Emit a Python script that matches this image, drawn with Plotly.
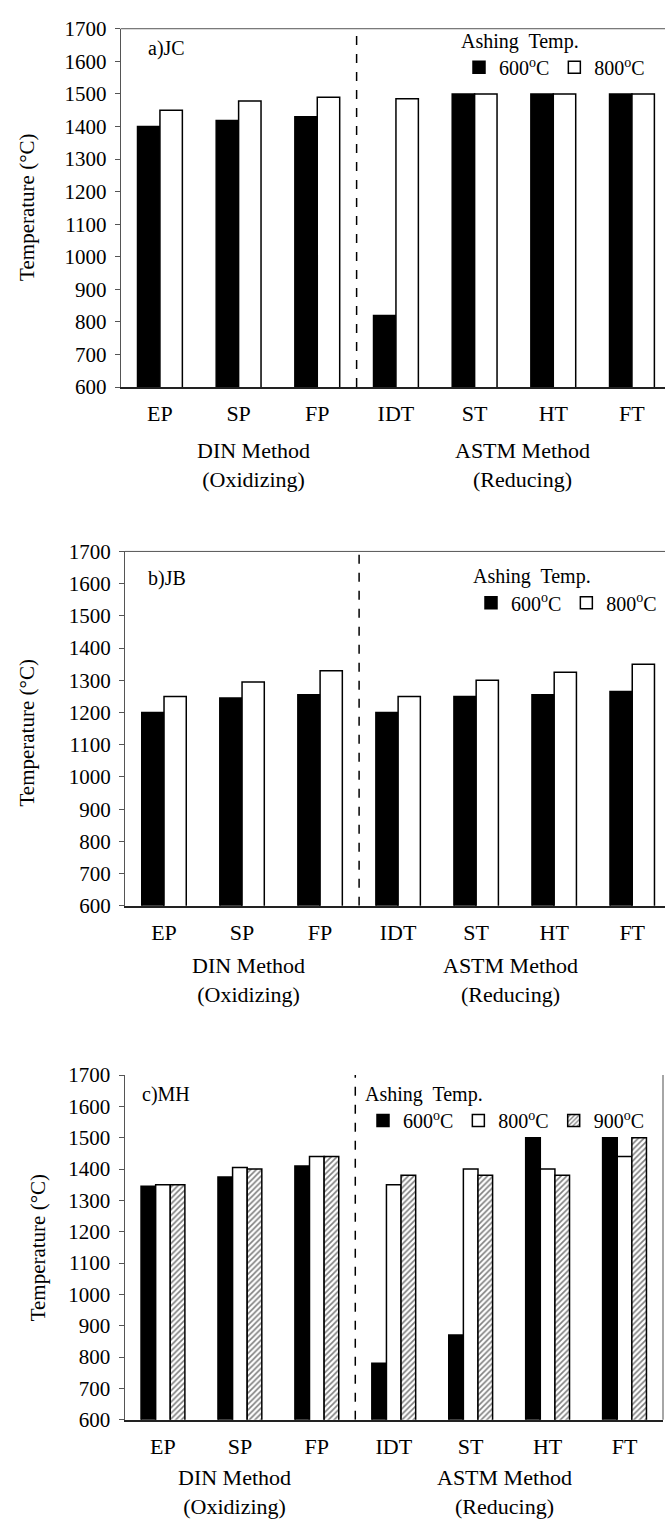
import plotly.graph_objects as go

# ---------------- data ----------------
categories = ["EP", "SP", "FP", "IDT", "ST", "HT", "FT"]
y_ticks = [600, 700, 800, 900, 1000, 1100, 1200, 1300, 1400, 1500, 1600, 1700]

jc_600 = [1400, 1418, 1430, 820, 1500, 1500, 1500]
jc_800 = [1450, 1478, 1490, 1485, 1500, 1500, 1500]

jb_600 = [1200, 1245, 1255, 1200, 1250, 1255, 1265]
jb_800 = [1250, 1295, 1330, 1250, 1300, 1325, 1350]

mh_600 = [1345, 1375, 1410, 780, 870, 1500, 1500]
mh_800 = [1350, 1405, 1440, 1350, 1400, 1400, 1440]
mh_900 = [1350, 1400, 1440, 1380, 1380, 1380, 1500]

series_names = ["600<sup>o</sup>C", "800<sup>o</sup>C", "900<sup>o</sup>C"]
panel_labels = ["a)JC", "b)JB", "c)MH"]

FONT = "Liberation Serif, Times New Roman, serif"
W, H = 665, 1535

fig = go.Figure()

def style(i):
    if i == 0:
        return dict(color="black", line=dict(color="black", width=1.5))
    if i == 1:
        return dict(color="white", line=dict(color="black", width=1.5))
    return dict(color="white", line=dict(color="black", width=1.5),
                pattern=dict(shape="/", fgcolor="black", bgcolor="white",
                             size=4, solidity=0.4))

panels = [
    ([jc_600, jc_800], "x", "y", "legend"),
    ([jb_600, jb_800], "x2", "y2", "legend2"),
    ([mh_600, mh_800, mh_900], "x3", "y3", "legend3"),
]
for series, xa, ya, lg in panels:
    for i, vals in enumerate(series):
        fig.add_trace(go.Bar(x=categories, y=vals, name=series_names[i],
                             marker=style(i), xaxis=xa, yaxis=ya, legend=lg,
                             showlegend=True))

# ---------------- layout geometry (pixels) ----------------
def py(p):  # pixel from top -> paper y
    return 1 - p / H

def px(p):
    return p / W

geo = [
    # left px, right px, top px, bottom px, x range max
    (120.6, 665, 17, 381, 6.42),
    (125, 665, 548, 908, 6.42),
    (124.5, 663, 1080, 1430, 6.5),
]

axis_common_x = dict(type="category", showgrid=False, zeroline=False,
                     showline=True, linecolor="#222222", linewidth=1.5,
                     ticks="", tickfont=dict(family=FONT, size=22, color="black"),
                     ticklabelstandoff=6, fixedrange=True)
axis_common_y = dict(showgrid=False, zeroline=False, showline=True,
                     linecolor="#555555", linewidth=1, ticks="outside",
                     ticklen=5, tickcolor="#555555", tickvals=y_ticks,
                     range=[600, 1700],
                     tickfont=dict(family=FONT, size=21, color="black"),
                     ticklabelstandoff=4, fixedrange=True)

layout = dict(width=W, height=H, margin=dict(l=0, r=0, t=0, b=0),
              paper_bgcolor="white", plot_bgcolor="white",
              barmode="group", showlegend=True,
              font=dict(family=FONT, color="black"))
for k, (l, r, t, b, xmax) in enumerate(geo):
    sx = "" if k == 0 else str(k + 1)
    layout["xaxis" + sx] = dict(axis_common_x, domain=[px(l), px(r)],
                                range=[-0.5, xmax], anchor="y" + sx)
    layout["yaxis" + sx] = dict(axis_common_y, domain=[py(b), py(t)],
                                anchor="x" + sx)
fig.update_layout(**layout)
fig.update_layout(bargap=0.43, bargroupgap=0)

# legends (anchored on the right so the row never wraps)
leg_pos = [(650, 10), (662, 554), (650, 1080)]
for k, (rx, ty) in enumerate(leg_pos):
    name = "legend" if k == 0 else "legend" + str(k + 1)
    fig.update_layout(**{name: dict(
        orientation="h", x=px(rx), y=py(ty), xanchor="right", yanchor="top",
        bgcolor="rgba(0,0,0,0)", borderwidth=0,
        title=dict(text="Ashing  Temp.", side="top",
                   font=dict(family=FONT, size=20, color="black")),
        font=dict(family=FONT, size=20, color="black"),
        itemwidth=30, tracegroupgap=0, itemclick=False,
        itemdoubleclick=False)})

# shapes: dashed separators, borders
shapes = []
for k, (l, r, t, b, xmax) in enumerate(geo):
    sx = "" if k == 0 else str(k + 1)
    shapes.append(dict(type="line", xref="x" + sx, yref="y" + sx,
                       x0=2.5, x1=2.5, y0=600, y1=1700,
                       line=dict(color="black", width=1.5, dash="dash")))
    if k < 2:
        shapes.append(dict(type="line", xref="paper", yref="paper",
                           x0=px(l), x1=1, y0=py(t), y1=py(t),
                           line=dict(color="#555555", width=1)))
    else:
        shapes.append(dict(type="line", xref="paper", yref="paper",
                           x0=px(r), x1=px(r), y0=py(b), y1=py(t),
                           line=dict(color="#888888", width=1.5)))
fig.update_layout(shapes=shapes)

# annotations
ann = []
label_pos = [(146, 37), (146, 575), (140, 1100)]
title_pos = [(27, 199), (27, 733), (38, 1256)]
method_pos = [((253, 443), (522, 443)), ((248, 966), (510, 966)),
              ((234, 1486), (504, 1486))]
for k in range(3):
    lx, ly = label_pos[k]
    ann.append(dict(text=panel_labels[k], x=px(lx), y=py(ly), xref="paper",
                    yref="paper", xanchor="left", yanchor="middle",
                    showarrow=False, font=dict(family=FONT, size=20, color="black")))
    tx, ty = title_pos[k]
    ann.append(dict(text="Temperature (°C)", x=px(tx), y=py(ty), xref="paper",
                    yref="paper", xanchor="center", yanchor="middle",
                    textangle=-90, showarrow=False,
                    font=dict(family=FONT, size=21, color="black")))
    (dx, dy), (ax_, ay) = method_pos[k]
    ann.append(dict(text="DIN Method<br>(Oxidizing)", x=px(dx), y=py(dy),
                    xref="paper", yref="paper", xanchor="center", yanchor="top",
                    yshift=12, showarrow=False, align="center",
                    font=dict(family=FONT, size=22, color="black")))
    ann.append(dict(text="ASTM Method<br>(Reducing)", x=px(ax_), y=py(ay),
                    xref="paper", yref="paper", xanchor="center", yanchor="top",
                    yshift=12, showarrow=False, align="center",
                    font=dict(family=FONT, size=22, color="black")))
fig.update_layout(annotations=ann)

fig.write_html("out.html")
